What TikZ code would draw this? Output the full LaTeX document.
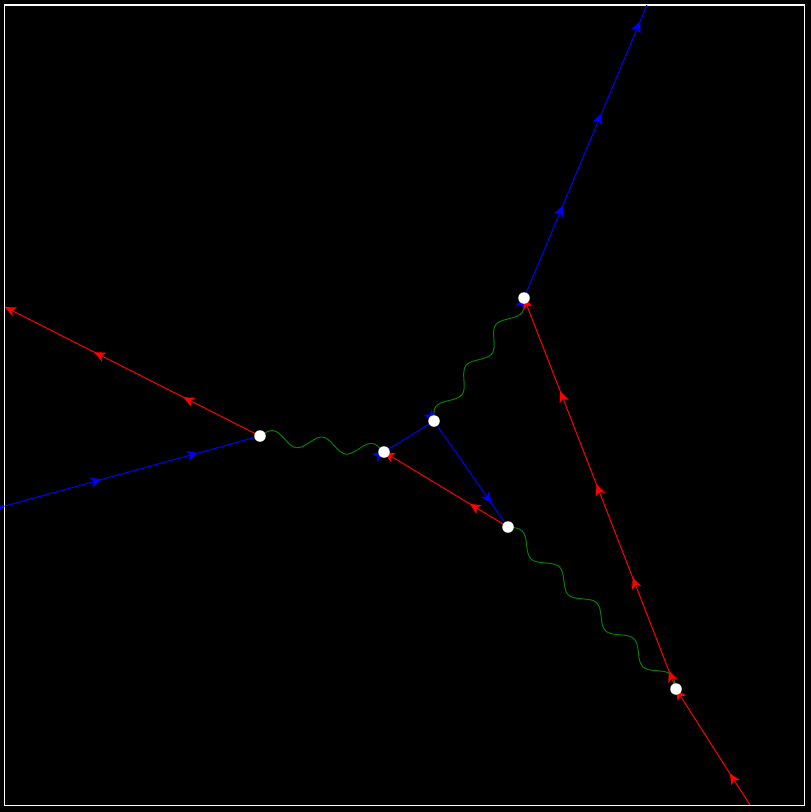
\documentclass[tikz,border=0pt]{standalone}
\usetikzlibrary{%
	arrows.meta,
	decorations.markings
}
\pgfdeclarelayer{lines}
\pgfsetlayers{lines,main}

% half waves, so that a whole number of them fills the edge
\pgfdeclaredecoration{halfwave}{up}{%
	\state{up}[width=\pgfdecorationsegmentlength,next state=down]{%
		\pgfpathcurveto{\pgfqpoint{.4244\pgfdecorationsegmentlength}{1.3333\pgfdecorationsegmentamplitude}}{\pgfqpoint{.5756\pgfdecorationsegmentlength}{1.3333\pgfdecorationsegmentamplitude}}{\pgfqpoint{\pgfdecorationsegmentlength}{0pt}}}%
	\state{down}[width=\pgfdecorationsegmentlength,next state=up]{%
		\pgfpathcurveto{\pgfqpoint{.4244\pgfdecorationsegmentlength}{-1.3333\pgfdecorationsegmentamplitude}}{\pgfqpoint{.5756\pgfdecorationsegmentlength}{-1.3333\pgfdecorationsegmentamplitude}}{\pgfqpoint{\pgfdecorationsegmentlength}{0pt}}}%
	\state{final}{\pgfpathlineto{\pgfpointdecoratedpathlast}}%
}

\begin{document}
\begin{tikzpicture}[x=1pt,y=-1pt,
		vertex/.style={circle,fill=white,inner sep=0pt,minimum size=11.5pt},
		fwd/.style={postaction={decorate},decoration={markings,mark=between positions 0.1pt and 1 step 100pt with {\arrow{Stealth[length=11pt,width=10pt,inset=3pt]}}}},
		bwd/.style={postaction={decorate},decoration={markings,mark=between positions 0.1pt and 1 step 100pt with {\arrowreversed{Stealth[length=11pt,width=10pt,inset=3pt]}}}},
		electron/.style={blue,line width=1pt,fwd},
		positron/.style={red,line width=1pt,bwd},
		photon/.style={green!50!black,line width=1pt,decorate,decoration={halfwave,amplitude=7pt,segment length=#1}}
	]
	\useasboundingbox (0,0) rectangle (811,812);
	
	%vertices
	\node(v1) [vertex] at (260,436) {};
	\node(v2) [vertex] at (384,452) {};
	\node(v3) [vertex] at (434,421) {};
	\node(v4) [vertex] at (508,527) {};
	\node(v5) [vertex] at (524,298) {};
	\node(v6) [vertex] at (676,689) {};
	
	\coordinate(in1) at (5,506);
	\coordinate(out1) at (5,307);
	\coordinate(out2) at (647,5);
	\coordinate(out3) at (750,805);
	
	\begin{pgfonlayer}{lines}
		\fill[black] (0,0) rectangle (811,812);
		\draw[white,line width=1.2pt] (4.5,5) rectangle (804.5,805.5);
		
		\draw[electron] (in1) -- (v1.center);
		\draw[positron] (out1) -- (v1.center);
		\draw[photon=24.95] (v1.center) -- (v2.center);
		\draw[electron] (v2.center) -- (v3.center);
		\draw[electron] (v3.center) -- (v4.center);
		\draw[positron] (v2.center) -- (v4.center);
		\draw[photon=25.35] (v3.center) -- (v5.center);
		\draw[photon=25.88] (v4.center) -- (v6.center);
		\draw[electron] (v5.center) -- (out2);
		\draw[positron] (v5.center) -- (v6.center);
		\draw[positron] (v6.center) -- (out3);
	\end{pgfonlayer}
	
\end{tikzpicture}
\end{document}
